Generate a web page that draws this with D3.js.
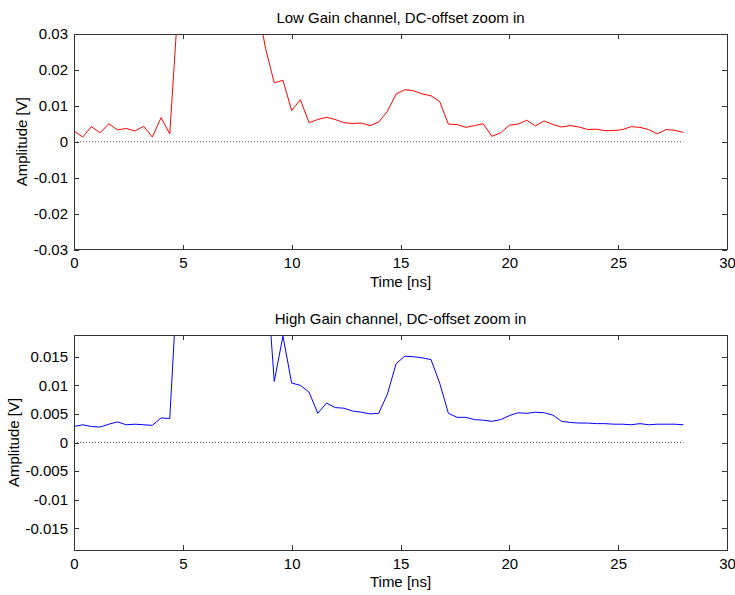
<!DOCTYPE html>
<html>
<head>
<meta charset="utf-8">
<script src="https://cdn.jsdelivr.net/npm/d3@7"></script>
<style>
  html, body { margin: 0; padding: 0; background: #fff; }
  svg { display: block; }
  text { font-family: "Liberation Sans", Arial, Helvetica, sans-serif; fill: #000; }
</style>
</head>
<body>
<svg id="chart" width="735" height="595"></svg>
<script>
// ---- data ----
const timeNs = [0.0,0.4,0.8,1.2,1.6,2.0,2.4,2.8,3.2,3.6,4.0,4.4,4.8,5.2,5.6,6.0,6.4,6.8,7.2,7.6,
  8.0,8.4,8.8,9.2,9.6,10.0,10.4,10.8,11.2,11.6,12.0,12.4,12.8,13.2,13.6,14.0,14.4,14.8,15.2,15.6,
  16.0,16.4,16.8,17.2,17.6,18.0,18.4,18.8,19.2,19.6,20.0,20.4,20.8,21.2,21.6,22.0,22.4,22.8,23.2,23.6,
  24.0,24.4,24.8,25.2,25.6,26.0,26.4,26.8,27.2,27.6,28.0];

const lowGain = [0.0030,0.0013,0.0042,0.0025,0.0050,0.0033,0.0037,0.0030,0.0043,0.0013,
  0.0067,0.0022,0.040,0.095,0.140,0.160,0.150,0.125,0.095,0.070,
  0.052,0.039,0.026,0.0164,0.0171,0.0087,0.0117,0.0053,0.0062,0.0068,
  0.0062,0.0053,0.0051,0.0052,0.0045,0.0055,0.0085,0.0133,0.0145,0.0142,
  0.0133,0.0128,0.0112,0.0049,0.0048,0.0040,0.0045,0.0050,0.0015,0.0025,
  0.0046,0.0049,0.0060,0.0044,0.0058,0.0048,0.0041,0.0045,0.0041,0.0034,
  0.0035,0.0031,0.0031,0.0034,0.0042,0.0040,0.0034,0.0022,0.0034,0.0032,0.0026];

const highGain = [0.0028,0.0031,0.0028,0.0027,0.0032,0.0036,0.0031,0.0032,0.0031,0.0030,
  0.0043,0.0042,0.032,0.090,0.140,0.160,0.150,0.120,0.090,0.065,
  0.048,0.040,0.032,0.0107,0.0186,0.0104,0.0100,0.0088,0.0051,0.0069,
  0.0061,0.0060,0.0055,0.0053,0.0050,0.0051,0.0085,0.0138,0.0151,0.0150,
  0.0148,0.0145,0.0104,0.0051,0.0044,0.0044,0.0040,0.0039,0.0037,0.0040,
  0.0047,0.0052,0.0051,0.0053,0.0052,0.0048,0.0037,0.0035,0.0034,0.0034,
  0.0033,0.0033,0.0032,0.0032,0.0031,0.0033,0.0031,0.0032,0.0032,0.0032,0.0031];

const xTicks = [0, 5, 10, 15, 20, 25, 30];
const xTickLabels = ["0", "5", "10", "15", "20", "25", "30"];
const yTicksTop = [-0.03, -0.02, -0.01, 0, 0.01, 0.02, 0.03];
const yTickLabelsTop = ["-0.03", "-0.02", "-0.01", "0", "0.01", "0.02", "0.03"];
const yTicksBottom = [-0.015, -0.01, -0.005, 0, 0.005, 0.01, 0.015];
const yTickLabelsBottom = ["-0.015", "-0.01", "-0.005", "0", "0.005", "0.01", "0.015"];

const panels = [
  { title: "Low Gain channel, DC-offset zoom in", values: lowGain, color: "#ff0000",
    yDomain: [-0.03, 0.03], yTicks: yTicksTop, yLabels: yTickLabelsTop,
    top: 34, bottom: 249.5, yLabelX: 22 },
  { title: "High Gain channel, DC-offset zoom in", values: highGain, color: "#0000ff",
    yDomain: [-0.0188, 0.0188], yTicks: yTicksBottom, yLabels: yTickLabelsBottom,
    top: 335, bottom: 550, yLabelX: 14 }
];

// ---- drawing ----
const svg = d3.select("#chart");
const left = 74, right = 727;
const axisColor = "#333";
const tickLen = 5;

panels.forEach((p, pi) => {
  const x = d3.scaleLinear().domain([0, 30]).range([left, right]);
  const y = d3.scaleLinear().domain(p.yDomain).range([p.bottom, p.top]);
  const g = svg.append("g");

  const clipId = "clip" + pi;
  svg.append("defs").append("clipPath").attr("id", clipId)
    .append("rect").attr("x", left).attr("y", p.top)
    .attr("width", right - left).attr("height", p.bottom - p.top);

  // zero dotted line
  g.append("line")
    .attr("x1", x(timeNs[0])).attr("x2", x(timeNs[timeNs.length - 1]))
    .attr("y1", y(0)).attr("y2", y(0))
    .attr("stroke", "#555").attr("stroke-width", 1)
    .attr("stroke-dasharray", "1,2");

  // data line
  const line = d3.line().x((d, i) => x(timeNs[i])).y(d => y(d));
  g.append("path").datum(p.values)
    .attr("clip-path", "url(#" + clipId + ")")
    .attr("fill", "none").attr("stroke", p.color).attr("stroke-width", 1)
    .attr("stroke-linejoin", "round")
    .attr("d", line);

  // axes
  const xb = d3.axisBottom(x).tickValues(xTicks).tickFormat((d, i) => xTickLabels[i])
    .tickSizeInner(-tickLen).tickSizeOuter(0).tickPadding(8);
  const xt = d3.axisTop(x).tickValues(xTicks).tickFormat("")
    .tickSizeInner(-tickLen).tickSizeOuter(0);
  const yl = d3.axisLeft(y).tickValues(p.yTicks).tickFormat((d, i) => p.yLabels[i])
    .tickSizeInner(-tickLen).tickSizeOuter(0).tickPadding(6);
  const yr = d3.axisRight(y).tickValues(p.yTicks).tickFormat("")
    .tickSizeInner(-tickLen).tickSizeOuter(0);

  const axes = [
    g.append("g").attr("transform", `translate(0,${p.bottom})`).call(xb),
    g.append("g").attr("transform", `translate(0,${p.top})`).call(xt),
    g.append("g").attr("transform", `translate(${left},0)`).call(yl),
    g.append("g").attr("transform", `translate(${right},0)`).call(yr)
  ];
  axes.forEach(a => {
    a.select(".domain").remove();
    a.selectAll(".tick line").attr("stroke", axisColor).attr("shape-rendering", "crispEdges");
    a.selectAll(".tick text").attr("font-size", 15).attr("fill", "#000")
      .style("font-family", "'Liberation Sans', Arial, sans-serif");
    a.attr("font-family", null).attr("font-size", null);
  });

  // box
  g.append("rect").attr("x", left).attr("y", p.top)
    .attr("width", right - left).attr("height", p.bottom - p.top)
    .attr("fill", "none").attr("stroke", axisColor).attr("stroke-width", 1)
    .attr("shape-rendering", "crispEdges");

  // title
  g.append("text").attr("x", (left + right) / 2).attr("y", p.top - 11)
    .attr("text-anchor", "middle").attr("font-size", 15).text(p.title);

  // x label
  g.append("text").attr("x", (left + right) / 2).attr("y", p.bottom + 37)
    .attr("text-anchor", "middle").attr("font-size", 15).text("Time [ns]");

  // y label
  g.append("text")
    .attr("transform", `translate(${p.yLabelX + 5},${(p.top + p.bottom) / 2}) rotate(-90)`)
    .attr("text-anchor", "middle").attr("font-size", 15).text("Amplitude [V]");
});
</script>
</body>
</html>
